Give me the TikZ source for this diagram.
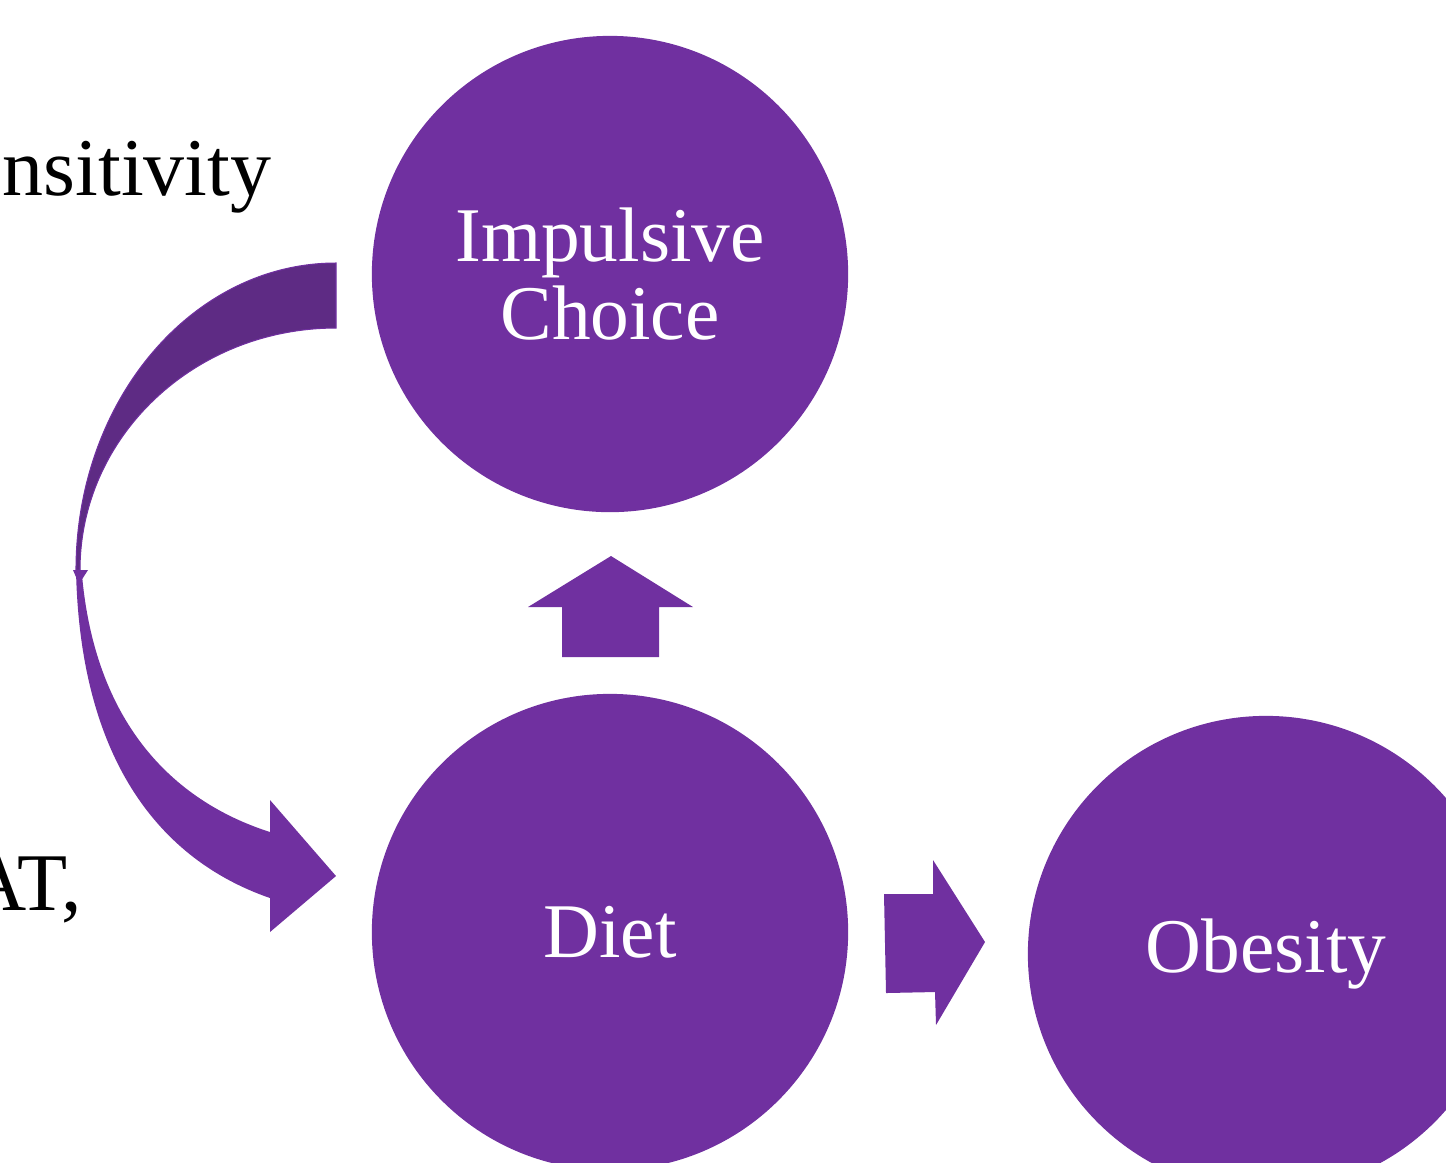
\documentclass[tikz,border=0pt]{standalone}
\usepackage{fontspec}
\setmainfont{Liberation Serif}
\usepackage{tikz}
\definecolor{plum}{HTML}{7030A0}
\definecolor{darkplum}{HTML}{5E2B84}
\newcommand{\bubblesize}{4.76cm}
\newcommand{\slidefont}{\fontsize{23.3}{22.2}\selectfont}
\newcommand{\bubblefont}{\fontsize{22}{22.2}\selectfont}

\begin{document}
\begin{tikzpicture}[x=0.01cm, y=-0.01cm,
    bubble/.style={circle, fill=plum, text=white, minimum size=\bubblesize, inner sep=0pt, align=center, font=\bubblefont},
    blockarrow/.style={fill=plum},
    fold/.style={fill=darkplum, draw=plum, line width=.3pt}]
  \useasboundingbox (0,0) rectangle (1446,1162);
  \clip (0,0) rectangle (1446,1162);

  \node (choice) at (610,274) [bubble] {Impulsive\\Choice};
  \node (diet) at (610,932) [bubble] {Diet};
  \node (obesity) at (1266,954) [bubble] {Obesity};

  \node (sens) at (272,195) [anchor=base east, inner sep=0pt, font=\slidefont] {nsitivity};
  \node (at) at (83,910) [anchor=base east, inner sep=0pt, font=\slidefont] {AT,};

  % diet -> choice
  \fill[blockarrow] (611,556) -- (693,607) -- (659,607) -- (659,657)
    -- (562,657) -- (562,607) -- (528,607) -- cycle;
  % diet -> obesity
  \fill[blockarrow] (884,894) -- (933,894) -- (933,860) -- (985,942)
    -- (936,1025) -- (935,992) -- (886,993) -- cycle;

  % curved arrow into diet
  \fill[fold] (336,263) -- (336,328)
    .. controls (194.6,328) and (80,436.3) .. (80,570)
    -- (76,570)
    .. controls (76,400.4) and (192.4,263) .. (336,263) -- cycle;
  \fill[blockarrow] (76,570) .. controls (80,760) and (160,860) .. (270,898)
    -- (270,932) -- (336,876) -- (270,800) -- (270,832)
    .. controls (170,800) and (95,720) .. (82,575) -- cycle;
  \fill[blockarrow] (73,570) -- (88,570) -- (79,584) -- cycle;
  %\draw (945,-10) node {,};
\end{tikzpicture}
\end{document}
